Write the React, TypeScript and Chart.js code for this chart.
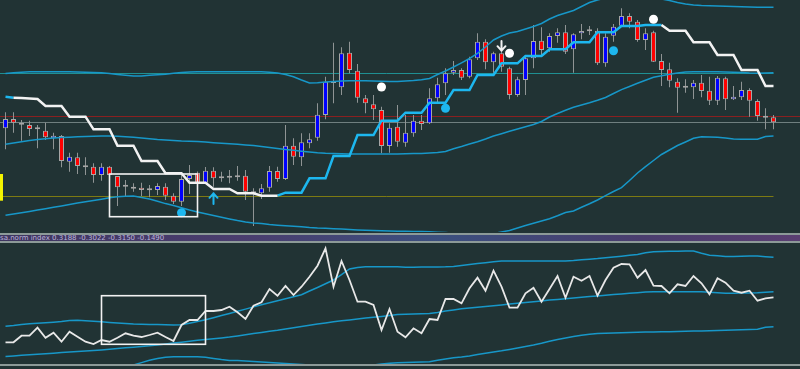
import React, { useEffect, useRef } from "react";
import { Chart, registerables } from "chart.js";

Chart.register(...registerables);

// ---------- categories (bar numbers) ----------
const labels: string[] = Array.from({ length: 97 }, (_, i) => `${i + 1}`);

// ---------- price pane: candles ----------
const openP = [
  111.7, 121, 117.3, 115, 111.7, 109.3, 101.7, 104, 78.3, 82.7,
  74, 73.3, 65, 73.3, 64, 55, 52.7, 52.3, 50.7, 50,
  53.3, 44.3, 38.3, 61, 67.3, 57.3, 69.3, 61.7, 63.3, 64.3,
  64.3, 48.3, 46.7, 52.3, 69, 61, 94.3, 82.7, 96.7, 102.3,
  125, 159, 152.7, 187.3, 169.3, 141.7, 135.7, 130, 94, 113.3,
  97.3, 106.7, 119.3, 116.7, 141.7, 156.7, 167.3, 170, 163.3, 181.7,
  198.3, 177.7, 186.7, 171.7, 145, 160, 181.7, 199.3, 191.7, 204,
  207.7, 190.7, 206.7, 209.3, 209.3, 176.7, 204.3, 214.3, 224, 218.3,
  200, 207.7, 179, 170.7, 158.3, 153.3, 152.7, 157.3, 149.3, 139.3,
  161.7, 140.7, 142.7, 150, 139, 124, 122.7,
];
const closeP = [
  121, 117.3, 115.3, 111, 110.7, 102.7, 104.3, 79, 83.3, 74,
  72.7, 65, 73.3, 65, 52.7, 53.3, 51.3, 50, 49.7, 54,
  44.3, 38.3, 61, 65, 57.3, 69.3, 61.7, 63.3, 62.3, 62.7,
  48.3, 46.7, 51.7, 69, 61, 94.3, 83.3, 97.7, 100.7, 125.3,
  158.3, 157, 186.7, 170, 142.3, 136.7, 130.7, 94, 112.3, 98.3,
  107.3, 119.3, 116, 141.7, 155.7, 166.7, 170, 162.3, 180.7, 198.3,
  177.7, 186.7, 173.3, 145, 160.7, 181.7, 199, 190, 204, 207.7,
  188.3, 205.7, 209, 208.7, 176.7, 203.3, 213.3, 224, 218.3, 200,
  206.7, 178.3, 170, 159.3, 152.3, 152.3, 157.3, 149, 139.3, 162.3,
  140.7, 143.3, 150, 139.3, 124, 122.3, 117.7,
];
const highP = [
  127.7, 127.7, 120, 119.3, 115, 117.3, 107.3, 105, 87.3, 87.3,
  82.7, 76.7, 76.7, 74, 64, 60, 56.7, 57.3, 55, 56.7,
  56.7, 46.7, 65.7, 75, 68.5, 73, 72.7, 68.3, 70, 74,
  70, 51.7, 56, 74, 73.3, 115, 101.7, 106.7, 106.7, 136.7,
  163.3, 197.3, 192.7, 198.3, 176, 145, 145, 133.3, 116.7, 135,
  125, 125, 125, 151.7, 162.3, 171.7, 179, 171.7, 183.3, 206.7,
  200.7, 188.3, 190, 173.3, 163.3, 185, 215, 212.7, 206.7, 211.7,
  215, 206.7, 216, 214, 211.7, 206.7, 216, 231.7, 226.7, 220,
  211.7, 209.3, 186, 177.3, 161.7, 160.7, 160, 165, 163.3, 164,
  163.3, 154, 158.3, 151.7, 140.7, 131.7, 125,
];
const lowP = [
  90.7, 107.3, 99.3, 104, 91.7, 100, 90.7, 72.7, 68.3, 66,
  65, 57.3, 59.3, 64.5, 34, 43.3, 48.3, 44, 42.7, 45,
  40, 36, 34, 46, 56.5, 56.5, 53.3, 58.3, 56.7, 59.3,
  40, 14, 41, 48.3, 58.3, 60, 75, 74, 91.7, 99.3,
  120.7, 136.7, 145, 166.7, 137.3, 126.7, 120, 86.7, 87.3, 93.3,
  93.3, 103.3, 110, 116, 137, 145, 165, 160, 161.7, 180,
  170.7, 167.3, 168.3, 140.7, 143.3, 145, 171.7, 185, 188.3, 197.3,
  186, 167.3, 200.7, 205, 175, 173.3, 198.3, 213.3, 211.7, 198.3,
  190, 178, 154, 152.7, 127.3, 147.3, 141, 142.7, 135, 135,
  130, 140, 140, 123.3, 119.3, 110.7, 110.7,
];

// ---------- price pane: envelope bands ----------
const bandUpper = [
  166.5, 167.2, 167.8, 168.2, 168.3, 168.3, 168.3, 168.3, 168.3, 168,
  167.7, 167.5, 167.2, 166.5, 165.5, 164.7, 164, 164, 164.7, 165.3,
  165.8, 166.7, 167.5, 168, 168.2, 168.3, 168.3, 168.3, 168.3, 168.3,
  168.3, 168.3, 168.2, 167.7, 167, 165.5, 163.3, 160, 157, 157.2,
  158, 158.5, 159, 159.2, 159.3, 159.2, 159, 158.7, 158.4, 158.5,
  159, 159.5, 160.2, 161.5, 165.5, 169, 173, 177.2, 181.5, 186.7,
  193, 200, 204, 207, 208.5, 211, 213.5, 216.5, 221, 224.5,
  227, 229.5, 233.5, 237.5, 240, 242, 244, 245, 245.5, 245,
  244, 242.5, 241, 239.5, 237.5, 236, 235, 234.5, 234.2, 234,
  233.8, 233.5, 233.2, 233, 232.8, 232.7, 232.7,
];
const bandMid = [
  95.8, 97, 98.2, 99.4, 100.4, 101.2, 101.9, 102.5, 102.8, 103.2,
  103.5, 103.8, 104, 104, 103.7, 103.2, 102.7, 102, 101.2, 100.5,
  100, 99.5, 99, 98.7, 98.4, 98, 97.3, 96.7, 96.2, 95.7,
  95, 94.4, 93.5, 92.5, 91.5, 90.5, 89.7, 88.8, 88, 87.2,
  86.7, 86.4, 86.2, 86, 86, 86, 86, 86, 86, 86,
  86.2, 86.4, 86.6, 87, 87.5, 88.5, 91.2, 93.5, 96, 98.3,
  101, 104, 106.3, 108.7, 111, 113.2, 115.5, 118.5, 123, 126.5,
  129.7, 132.8, 135, 137.3, 139.8, 142.5, 146.5, 150.4, 153.5, 156.7,
  159.8, 162.7, 164.2, 165.8, 167, 168, 168.3, 168.3, 168.3, 168.3,
  168.1, 167.8, 167.4, 167, 166.8, 167, 167.3,
];
const bandLower = [
  24.8, 26, 27.3, 28.6, 29.9, 31.3, 32.7, 34.1, 35.5, 36.9,
  38.3, 39.5, 40.8, 42.2, 43.3, 43.8, 44, 42.5, 40.9, 38.7,
  36.4, 34.4, 32.3, 30, 28, 26.2, 24.5, 22.7, 21, 19.4,
  18, 17, 16.4, 15.4, 14.8, 14.3, 13.8, 13.2, 12.5, 12,
  11.7, 11.3, 10.9, 10.5, 10.1, 9.8, 9.5, 9.3, 9, 8.8,
  8.7, 8.5, 8.4, 8.2, 7.8, 7.4, 7, 6.7, 6.5, 6.3,
  6, 6.5, 8, 9.5, 12, 14.5, 16.7, 19, 21.3, 24.2,
  27.5, 29, 32.7, 36.2, 40, 44.4, 48.5, 52.4, 59.5, 67,
  73.3, 79.5, 85.5, 90, 94.5, 98, 101.7, 103.3, 103, 102.7,
  102, 101, 100.7, 100.7, 100.7, 103.5, 104,
];

// ---------- price pane: trailing stop (down = white, up = cyan) ----------
const trailDown = [
  null, 142.3, 142, 141.5, 141, 134, 134, 134, 123.3, 123.3,
  123.3, 110.7, 110.7, 110.7, 94.3, 94.3, 94.3, 79, 79, 79,
  66.7, 66.7, 66.7, 57.3, 57.3, 57.3, 51, 51, 51, 46.7,
  46.7, 46.7, 44.3, 44.3, 44.3, null, null, null, null, null,
  null, null, null, null, null, null, null, null, null, null,
  null, null, null, null, null, null, null, null, null, null,
  null, null, null, null, null, null, null, null, null, null,
  null, null, null, null, null, null, null, null, null, null,
  null, null, 215, 209.3, 209.3, 209.3, 197.7, 197.7, 197.7, 185,
  185, 185, 170, 170, 170, 154, 154,
];
const trailUp = [
  143.3, 142.3, null, null, null, null, null, null, null, null,
  null, null, null, null, null, null, null, null, null, null,
  null, null, null, null, null, null, null, null, null, null,
  null, null, null, null, 44.3, 47.3, 47.3, 47.3, 61.7, 61.7,
  61.7, 84, 84, 84, 105, 105, 105, 119.3, 119.3, 119.3,
  127.3, 127.3, 127.3, 137.3, 137.3, 137.3, 150, 150, 150, 165,
  165, 165, 176.7, 176.7, 176.7, 184, 184, 184, 190.7, 190.7,
  190.7, 197.7, 197.7, 197.7, 207.7, 207.7, 207.7, 214, 214, 214,
  215, 215, 215, null, null, null, null, null, null, null,
  null, null, null, null, null, null, null,
];

// ---------- price pane: signals and levels ----------
const whiteDotBars = [47, 63, 81];
const whiteDotPrices = [153, 186.7, 220.7];
const cyanDotBars = [22, 55, 76];
const cyanDotPrices = [27.3, 131.7, 189.3];
const sellArrow = { bar: 62, tail: 199, tip: 189.3 };
const buyArrow = { bar: 26, tail: 36, tip: 46.7 };
const levelPrices = [166.7, 124, 118, 44]; // teal, red, grey, olive
const priceBox = { fromBar: 13, toBar: 24, top: 66, bottom: 23.3 };
const yellowTag = { top: 66, bottom: 39.3 };

// ---------- oscillator pane ----------
const oscLine = [
  27.7, 27.7, 34.3, 34.3, 42.3, 32.3, 37.3, 28.3, 38.3, 33.3,
  28.3, 26, 30, 28.3, 32.3, 36.7, 34.3, 33, 35, 37.3,
  33, 29, 45, 50, 50, 59, 59, 60, 63.3, 57.7,
  51, 64.3, 67.7, 81, 74.3, 84, 75, 83.3, 93.3, 104.3,
  121.7, 83.3, 109, 90, 68.3, 68.3, 65, 40, 61, 38.3,
  32.7, 41.7, 36.7, 51, 50, 71, 71, 66.7, 81.7, 92.3,
  79.3, 99.3, 83.3, 62.3, 62.3, 76.7, 82.3, 68.3, 81, 94,
  72.3, 93.3, 89.3, 94, 74.3, 90, 102.3, 106, 105.7, 92.3,
  100, 84.3, 84, 76.7, 85.7, 84, 94, 86.7, 75.7, 91.7,
  87.3, 79.3, 77.3, 79.3, 69.3, 71.7, 72.7,
];
const oscUpper = [
  43.7, 44.5, 45.5, 46.2, 46.8, 47.3, 47.8, 48.4, 49.5, 49.7,
  49.2, 48.7, 48.3, 47.6, 47, 46.5, 46, 45.8, 45.6, 45.4,
  45.3, 45.1, 45.2, 46.8, 48.4, 50.2, 52.3, 54.5, 56.6, 58.7,
  60.9, 63.1, 65.3, 67.3, 69.2, 71.2, 73.2, 75.3, 79, 82.5,
  86.2, 90, 95.3, 101, 102.5, 103.2, 103.3, 103.3, 103.3, 103.3,
  102.8, 102.8, 102.9, 103, 103.1, 103.2, 103.6, 104.5, 105.4, 106.4,
  107.3, 108.2, 109, 109, 109, 109, 109, 109, 109, 109,
  109, 109.5, 110.2, 110.8, 111.4, 112.2, 113, 113.8, 114.7, 115.5,
  117.3, 118.3, 118.5, 118.7, 118.8, 118.9, 119, 116.8, 114.8, 114.3,
  113.5, 113.5, 113.7, 113.9, 114, 113.3, 112.7,
];
const oscMid = [
  13.6, 14.1, 14.7, 15.2, 15.8, 16.3, 16.8, 17.4, 17.9, 18.5,
  19, 19.5, 20.1, 20.8, 21.5, 22.2, 22.8, 23.5, 24.2, 25.1,
  26, 26.9, 27.8, 28.7, 29.7, 30.5, 31.3, 32.1, 32.9, 34.1,
  35.2, 36.4, 37.6, 38.8, 39.8, 41, 42.2, 43.5, 44.7, 45.9,
  47.1, 48.3, 49.2, 50.1, 51, 51.9, 52.7, 53.6, 54.6, 55.4,
  55.8, 56, 56.3, 56.5, 57.6, 58.9, 60.1, 61.2, 61.9, 62.7,
  63.5, 64.3, 65.1, 65.9, 66.7, 67.5, 68.3, 69.1, 69.9, 70.6,
  71.3, 72, 72.7, 73.4, 74, 74.7, 75.4, 76, 76.7, 77.3,
  78, 78.3, 78.3, 78.3, 78.3, 78.3, 78.3, 78.2, 77.7, 77.2,
  76.8, 76.8, 77, 77.1, 77.2, 77.7, 78.3,
];
const oscLower = [
  -8, -7, -6, -5, -4, -3, -2, -1.5, -1, 0,
  1, 2, 2.5, 3, 3.5, 4, 5, 7.4, 9.7, 11.5,
  12.8, 13.3, 13.3, 13.3, 13.3, 12.8, 11.6, 10.5, 9.6, 9.4,
  9, 8.6, 8.1, 7.5, 7, 6.5, 6, 5.5, 5, 4.5,
  4.2, 4, 3.7, 3.5, 3.5, 4, 5, 6, 6.7, 7.2,
  7.5, 7.8, 8, 8.3, 9.7, 11, 12.2, 13, 14.1, 15.4,
  16.7, 18, 19.2, 20.6, 22.1, 23.5, 24.9, 26.7, 28.7, 30.5,
  32, 33.4, 34.7, 35.8, 36.6, 36.8, 37.1, 37.3, 37.6, 37.8,
  38, 38.1, 38.2, 38.3, 38.5, 38.7, 38.9, 39, 39.2, 39.5,
  39.7, 40, 40.2, 40.4, 40.7, 42.8, 43.3,
];
const oscBox = { fromBar: 12, toBar: 25, top: 74.3, bottom: 25.7 };
const paneTitle = "sa.norm index 0.3188 -0.3022 -0.3150 -0.1490";

// ---------- styles ----------
const BG = "#213334";
const SEP = "#8c9a98";
const BAND = "#1797c8";
const TRAIL_UP = "#1db7ef";
const WHITE = "#f2f2f2";
const levelStyles = [
  { color: "#1f8f92", full: false },
  { color: "#8a2020", full: true },
  { color: "#6f7f7f", full: true },
  { color: "#7d7a12", full: false },
];

const bodyColors = openP.map((o, i) => {
  const d = closeP[i] - o;
  if (Math.abs(d) < 1.8) return d < 0 ? "#e6c6c6" : "#cdd0ea";
  return d > 0 ? "#0000ff" : "#ff0000";
});

const PAD = { left: 1.5, right: 22.5, top: 0, bottom: 0 };

function drawArrow(ctx: any, x: number, yTail: number, yTip: number, color: string) {
  const dir = yTip > yTail ? 1 : -1;
  ctx.save();
  ctx.strokeStyle = color;
  ctx.lineWidth = 2;
  ctx.lineCap = "round";
  ctx.lineJoin = "round";
  ctx.beginPath();
  ctx.moveTo(x, yTail);
  ctx.lineTo(x, yTip);
  ctx.moveTo(x - 4, yTip - dir * 4.5);
  ctx.lineTo(x, yTip);
  ctx.lineTo(x + 4, yTip - dir * 4.5);
  ctx.stroke();
  ctx.restore();
}

const topOverlay = {
  id: "topOverlay",
  beforeDatasetsDraw(chart: any) {
    const { ctx, scales } = chart;
    const x = scales.x;
    const y = scales.y;
    const lastX = x.getPixelForValue(labels.length - 1);
    levelPrices.forEach((p, i) => {
      const py = Math.round(y.getPixelForValue(p)) + 0.5;
      ctx.save();
      ctx.strokeStyle = levelStyles[i].color;
      ctx.lineWidth = 1;
      ctx.beginPath();
      ctx.moveTo(0, py);
      ctx.lineTo(levelStyles[i].full ? chart.width : lastX, py);
      ctx.stroke();
      ctx.restore();
    });
    const t = y.getPixelForValue(yellowTag.top);
    const b = y.getPixelForValue(yellowTag.bottom);
    ctx.save();
    ctx.fillStyle = "#f4f400";
    ctx.fillRect(0, t, 3, b - t);
    ctx.restore();
  },
  afterDatasetsDraw(chart: any) {
    const { ctx, scales } = chart;
    const x = scales.x;
    const y = scales.y;
    const x0 = x.getPixelForValue(priceBox.fromBar);
    const x1 = x.getPixelForValue(priceBox.toBar);
    const y0 = y.getPixelForValue(priceBox.top);
    const y1 = y.getPixelForValue(priceBox.bottom);
    ctx.save();
    ctx.strokeStyle = WHITE;
    ctx.lineWidth = 1.6;
    ctx.strokeRect(x0, y0, x1 - x0, y1 - y0);
    ctx.restore();
    drawArrow(ctx, x.getPixelForValue(sellArrow.bar), y.getPixelForValue(sellArrow.tail), y.getPixelForValue(sellArrow.tip), WHITE);
    drawArrow(ctx, x.getPixelForValue(buyArrow.bar), y.getPixelForValue(buyArrow.tail), y.getPixelForValue(buyArrow.tip), TRAIL_UP);
  },
};

const bottomOverlay = {
  id: "bottomOverlay",
  afterDatasetsDraw(chart: any) {
    const { ctx, scales } = chart;
    const x0 = scales.x.getPixelForValue(oscBox.fromBar);
    const x1 = scales.x.getPixelForValue(oscBox.toBar);
    const y0 = scales.y.getPixelForValue(oscBox.top);
    const y1 = scales.y.getPixelForValue(oscBox.bottom);
    ctx.save();
    ctx.strokeStyle = WHITE;
    ctx.lineWidth = 1.6;
    ctx.strokeRect(x0, y0, x1 - x0, y1 - y0);
    ctx.restore();
  },
};

function lineDs(data: any[], color: string, width: number, order: number) {
  return {
    type: "line",
    data,
    borderColor: color,
    borderWidth: width,
    pointRadius: 0,
    tension: 0,
    fill: false,
    spanGaps: false,
    order,
  };
}

function dotDs(bars: number[], prices: number[], color: string) {
  return {
    type: "line",
    data: bars.map((b, i) => ({ x: labels[b], y: prices[i] })),
    showLine: false,
    pointRadius: 4.5,
    pointBackgroundColor: color,
    pointBorderWidth: 0,
    order: 0,
  };
}

export default function App() {
  const topRef = useRef<HTMLCanvasElement>(null);
  const botRef = useRef<HTMLCanvasElement>(null);

  useEffect(() => {
    document.body.style.margin = "0";
    const top = new Chart(topRef.current as HTMLCanvasElement, {
      type: "bar",
      data: {
        labels,
        datasets: [
          {
            type: "bar",
            data: lowP.map((l, i) => [l, highP[i]]),
            backgroundColor: "#8f9494",
            borderWidth: 0,
            barThickness: 1,
            grouped: false,
            inflateAmount: 0,
            order: 6,
          },
          {
            type: "bar",
            data: openP.map((o, i) => [o, closeP[i]]),
            backgroundColor: bodyColors,
            borderColor: "#a6a6a6",
            borderWidth: 1,
            borderSkipped: false,
            barThickness: 5,
            minBarLength: 2,
            grouped: false,
            inflateAmount: 0,
            order: 5,
          },
          lineDs(bandUpper, BAND, 1.5, 3),
          lineDs(bandMid, BAND, 1.5, 3),
          lineDs(bandLower, BAND, 1.5, 3),
          lineDs(trailDown, WHITE, 2.5, 1),
          lineDs(trailUp, TRAIL_UP, 2.5, 1),
          dotDs(whiteDotBars, whiteDotPrices, "#ffffff"),
          dotDs(cyanDotBars, cyanDotPrices, TRAIL_UP),
        ] as any,
      },
      options: {
        responsive: false,
        animation: false,
        devicePixelRatio: 1,
        events: [],
        layout: { padding: PAD, autoPadding: false },
        scales: {
          x: { display: false, offset: true, grid: { display: false } },
          y: { display: false, min: 8, max: 240 },
        },
        plugins: { legend: { display: false }, tooltip: { enabled: false } },
      } as any,
      plugins: [topOverlay],
    });

    const bot = new Chart(botRef.current as HTMLCanvasElement, {
      type: "line",
      data: {
        labels,
        datasets: [
          lineDs(oscUpper, BAND, 1.5, 2),
          lineDs(oscMid, BAND, 1.5, 2),
          lineDs(oscLower, BAND, 1.5, 2),
          lineDs(oscLine, "#e8e8e8", 1.8, 1),
        ] as any,
      },
      options: {
        responsive: false,
        animation: false,
        devicePixelRatio: 1,
        events: [],
        layout: { padding: PAD, autoPadding: false },
        scales: {
          x: { display: false, offset: true, grid: { display: false } },
          y: { display: false, min: 6, max: 127 },
        },
        plugins: { legend: { display: false }, tooltip: { enabled: false } },
      } as any,
      plugins: [bottomOverlay],
    });

    return () => {
      top.destroy();
      bot.destroy();
    };
  }, []);

  return (
    <div style={{ position: "relative", width: 800, height: 369, background: BG, overflow: "hidden" }}>
      <canvas ref={topRef} width={800} height={232} style={{ position: "absolute", left: 0, top: 0 }} />
      <div style={{ position: "absolute", left: 0, top: 233, width: 800, height: 2, background: SEP }} />
      <div
        style={{
          position: "absolute",
          left: 0,
          top: 235,
          width: 800,
          height: 6,
          background: "linear-gradient(90deg, #3e3560 0%, #4a3d6e 30%, #3b4f7e 55%, #4a3d6e 80%, #5a3f72 100%)",
          overflow: "hidden",
        }}
      >
        <span
          style={{
            position: "absolute",
            left: 0,
            top: -1,
            fontFamily: "'DejaVu Sans', sans-serif",
            fontSize: 7,
            lineHeight: "8px",
            color: "#bcb4da",
            whiteSpace: "nowrap",
          }}
        >
          {paneTitle}
        </span>
      </div>
      <div style={{ position: "absolute", left: 0, top: 241, width: 800, height: 2, background: SEP }} />
      <canvas ref={botRef} width={800} height={121} style={{ position: "absolute", left: 0, top: 243 }} />
      <div style={{ position: "absolute", left: 0, top: 364, width: 800, height: 2, background: SEP }} />
    </div>
  );
}
